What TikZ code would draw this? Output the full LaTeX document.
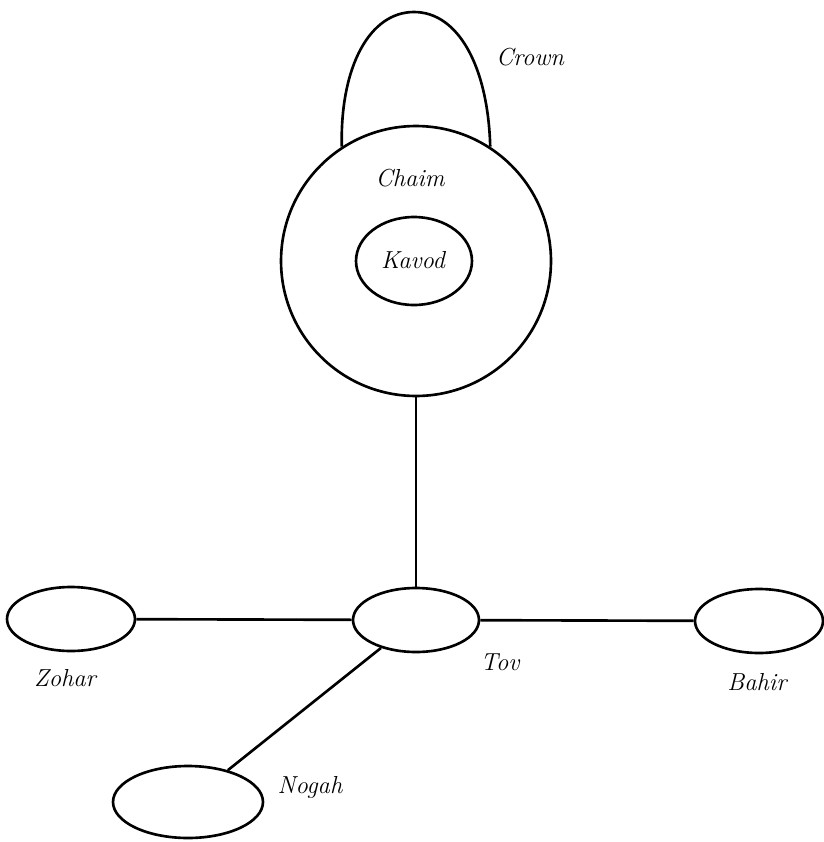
\documentclass[tikz,border=0pt]{standalone}
\usepackage{amssymb,amsmath}
\usetikzlibrary{shapes.geometric}

\begin{document}
\begin{tikzpicture}[x=0.02cm,y=-0.02cm,line width=1.5pt,
    sph/.style={draw,ellipse,inner sep=0pt,minimum width=2.56cm,minimum height=1.28cm},
    lbl/.style={font=\fontsize{14}{16}\selectfont\itshape}]
        \useasboundingbox (0,0) rectangle (824,842);
        % the upper sphere with its crown
        \node[draw,circle,inner sep=0pt,minimum size=5.4cm] (Chaim) at (416,261) {};
        \node[sph,minimum width=2.32cm,minimum height=1.76cm] (Kavod) at (414,261) {};
        \node[lbl] (KavodL) at (413,260) {Kavod};
        \node[lbl] (ChaimL) at (410,178) {Chaim};
        \draw (Chaim.123) .. controls (340,66) and (370,12) .. (414,12)
              .. controls (458,12) and (488,66) .. (Chaim.57);
        \node[lbl] (CrownL) at (530,57) {Crown};
        % the lower spheres
        \node[sph,minimum width=2.52cm] (Tov) at (416,620) {};
        \node[sph] (Zohar) at (71,619) {};
        \node[sph] (Bahir) at (759,621) {};
        \node[sph,minimum width=3cm,minimum height=1.44cm] (Nogah) at (188,802) {};
        \node[lbl] (TovL) at (500,662) {Tov};
        \node[lbl] (ZoharL) at (65,678) {Zohar};
        \node[lbl] (BahirL) at (757,682) {Bahir};
        \node[lbl] (NogahL) at (310,787) {Nogah};
        \draw (Chaim.south)--(Tov.north);
        \draw (Zohar)--(Tov);
        \draw (Tov)--(Bahir);
        \draw (Tov)--(Nogah);
\end{tikzpicture}
\end{document}
